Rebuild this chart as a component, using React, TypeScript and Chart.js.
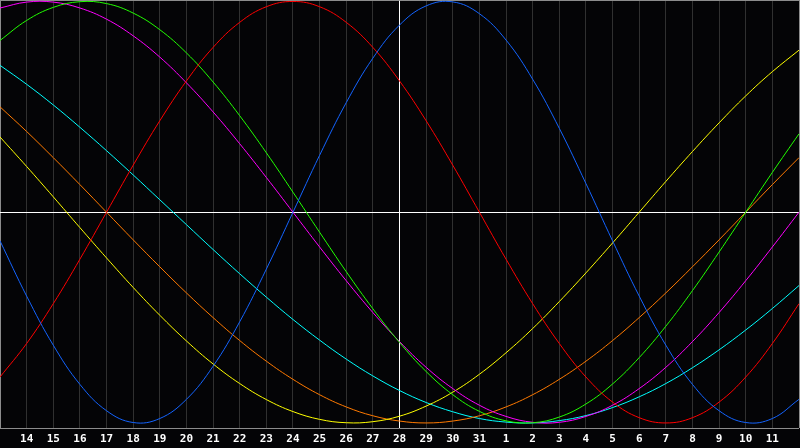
import { useEffect, useRef } from 'react'
import { Chart, registerables } from 'chart.js'

Chart.register(...registerables)

// day of month along the bottom, 13th to the 12th of the next month
const days = [
  '13', '14', '15', '16', '17', '18', '19', '20', '21', '22', '23', '24', '25', '26', '27', '28',
  '29', '30', '31', '1', '2', '3', '4', '5', '6', '7', '8', '9', '10', '11', '12'
]

// values, -1 .. 1
const physical = [
  -0.136, -0.398, -0.631, -0.817, -0.942, -0.998, -0.979, -0.888, -0.731, -0.520, -0.270,
  0, 0.270, 0.520, 0.731, 0.888, 0.979, 0.998, 0.942, 0.817, 0.631, 0.398, 0.136,
  -0.136, -0.398, -0.631, -0.817, -0.942, -0.998, -0.979, -0.888
]
const emotional = [
  -0.782, -0.623, -0.434, -0.223, 0, 0.223, 0.434, 0.623, 0.782, 0.901, 0.975,
  1, 0.975, 0.901, 0.782, 0.623, 0.434, 0.223, 0, -0.223, -0.434, -0.623,
  -0.782, -0.901, -0.975, -1, -0.975, -0.901, -0.782, -0.623, -0.434
]
const intellectual = [
  0.815, 0.910, 0.972, 0.999, 0.990, 0.945, 0.866, 0.756, 0.618, 0.458, 0.282,
  0.095, -0.095, -0.282, -0.458, -0.618, -0.756, -0.866, -0.945, -0.990, -0.999, -0.972,
  -0.910, -0.815, -0.690, -0.541, -0.372, -0.189, 0, 0.189, 0.372
]
const intuitive = [
  0.969, 0.997, 0.997, 0.969, 0.916, 0.837, 0.736, 0.614, 0.476, 0.325, 0.165,
  0, -0.165, -0.325, -0.476, -0.614, -0.736, -0.837, -0.916, -0.969, -0.997, -0.997,
  -0.969, -0.916, -0.837, -0.736, -0.614, -0.476, -0.325, -0.165, 0
]
const aesthetic = [
  0.357, 0.217, 0.073, -0.073, -0.217, -0.357, -0.489, -0.611, -0.720, -0.813, -0.889,
  -0.946, -0.983, -0.999, -0.994, -0.968, -0.920, -0.854, -0.769, -0.667, -0.552, -0.424,
  -0.288, -0.146, 0, 0.146, 0.288, 0.424, 0.552, 0.667, 0.769
]
const awareness = [
  0.5, 0.383, 0.259, 0.131, 0, -0.131, -0.259, -0.383, -0.5, -0.609, -0.707,
  -0.793, -0.866, -0.924, -0.966, -0.991, -1, -0.991, -0.966, -0.924, -0.866, -0.793,
  -0.707, -0.609, -0.5, -0.383, -0.259, -0.131, 0, 0.131, 0.259
]
const spiritual = [
  0.697, 0.607, 0.509, 0.403, 0.292, 0.177, 0.059, -0.059, -0.177, -0.292, -0.403,
  -0.509, -0.607, -0.697, -0.777, -0.846, -0.903, -0.947, -0.979, -0.996, -1, -0.989,
  -0.965, -0.927, -0.876, -0.813, -0.738, -0.653, -0.559, -0.457, -0.348
]

const series = [
  { label: 'Physical', data: physical, color: '#1464ff' },
  { label: 'Emotional', data: emotional, color: '#ff0000' },
  { label: 'Intellectual', data: intellectual, color: '#22ff00' },
  { label: 'Intuitive', data: intuitive, color: '#ff00ff' },
  { label: 'Aesthetic', data: aesthetic, color: '#ffff00' },
  { label: 'Awareness', data: awareness, color: '#ff7a00' },
  { label: 'Spiritual', data: spiritual, color: '#00ffff' }
]

const Y_MIN = -1.024
const Y_MAX = 1.007
const MID = 15 // today's line

const background = {
  id: 'background',
  beforeDraw(chart: any) {
    const { ctx, width, height } = chart
    ctx.save()
    ctx.fillStyle = '#040406'
    ctx.fillRect(0, 0, width, height)
    ctx.restore()
  }
}

const BiorhythmChart = () => {
  const chartRef = useRef<HTMLCanvasElement>(null)
  const chartInstance = useRef<Chart | null>(null)

  useEffect(() => {
    if (!chartRef.current) return
    if (chartInstance.current) chartInstance.current.destroy()

    chartInstance.current = new Chart(chartRef.current, {
      type: 'line',
      data: {
        labels: days,
        datasets: series.map(s => ({
          label: s.label,
          data: s.data,
          borderColor: s.color,
          borderWidth: 1,
          pointRadius: 0,
          fill: false,
          tension: 0.4
        }))
      },
      options: {
        animation: false,
        responsive: true,
        maintainAspectRatio: false,
        layout: { padding: { right: 1 } },
        plugins: {
          legend: { display: false },
          tooltip: { enabled: false }
        },
        scales: {
          x: {
            offset: false,
            border: { display: false },
            grid: {
              drawTicks: false,
              lineWidth: 1,
              color: (c: any) =>
                c.index === MID ? '#ffffff' : c.index === 0 || c.index === days.length - 1 ? '#8c8c8c' : '#303030'
            },
            ticks: {
              autoSkip: false,
              maxRotation: 0,
              padding: 5,
              color: '#ffffff',
              font: { family: 'DejaVu Sans Mono', size: 11, weight: 'bold' },
              callback: (_v: any, i: number) => (i === 0 || i === days.length - 1 ? '' : days[i])
            },
            afterFit: (scale: any) => {
              scale.height = 20
              scale.paddingLeft = 0
              scale.paddingRight = 0
            }
          },
          y: {
            min: Y_MIN,
            max: Y_MAX,
            border: { display: false },
            ticks: { display: false },
            grid: {
              drawTicks: false,
              lineWidth: 1,
              color: (c: any) => (c.tick && c.tick.value === 0 ? '#ffffff' : '#8c8c8c')
            },
            afterBuildTicks: (scale: any) => {
              scale.ticks = [{ value: Y_MIN }, { value: 0 }, { value: Y_MAX }]
            },
            afterFit: (scale: any) => {
              scale.width = 0
            }
          }
        }
      },
      plugins: [background]
    })

    return () => {
      if (chartInstance.current) {
        chartInstance.current.destroy()
        chartInstance.current = null
      }
    }
  }, [])

  return (
    <div style={{ position: 'fixed', left: 0, top: 0, width: '800px', height: '448px', background: '#040406' }}>
      <canvas ref={chartRef}></canvas>
    </div>
  )
}

export default function App() {
  return <BiorhythmChart />
}
